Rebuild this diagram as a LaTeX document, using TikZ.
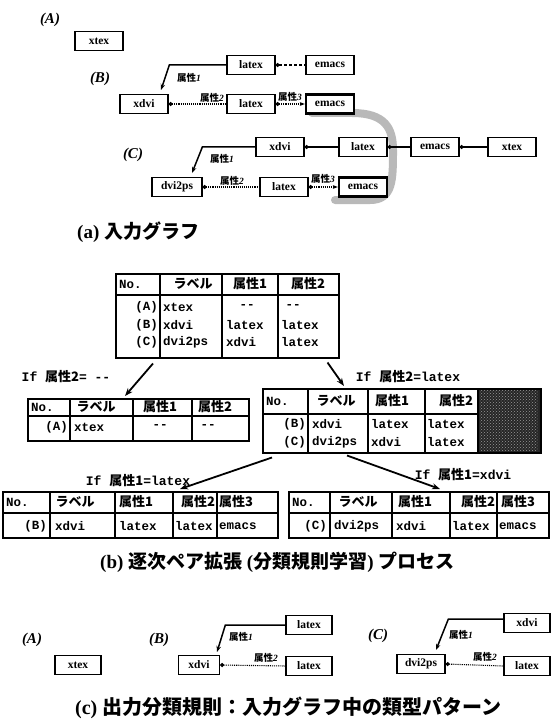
\documentclass[tikz,border=0pt]{standalone}
\usepackage{fontspec}
\setmainfont{Liberation Serif}
\setmonofont{Liberation Mono}
\newfontfamily\cjk{Noto Sans CJK JP}
\usetikzlibrary{arrows.meta,patterns}
\begin{document}
\begin{tikzpicture}[x=1pt,y=-1pt,
 gbox/.style={draw,line width=1.3pt,fill=white,minimum width=48pt,minimum height=19pt,inner sep=0pt,font=\fontsize{11.5}{12}\selectfont\bfseries},
 sbox/.style={gbox,minimum width=46pt,minimum height=19pt},
 hbox/.style={gbox,line width=2.4pt},
 glab/.style={font=\fontsize{15}{16}\selectfont\bfseries\itshape,inner sep=0pt},
 attr/.style={font=\fontsize{9.5}{10}\selectfont\bfseries,inner sep=0pt},
 gline/.style={line width=1.1pt},
 ldot/.style={{Circle[length=4pt]}-},
 a1/.style={line width=1.5pt,-{Stealth[length=6pt,width=4.5pt]}},
 tbl/.style={draw,line width=1.5pt,inner sep=0pt,anchor=north west},
 tl/.style={line width=1.3pt},
 hs/.style={line width=2.6pt},
 th/.style={font=\fontsize{13}{14}\selectfont\cjk\bfseries,inner sep=0pt},
 tt/.style={font=\fontsize{12.5}{13}\selectfont\ttfamily\bfseries,inner sep=0pt},
 cond/.style={font=\fontsize{13}{14}\selectfont\ttfamily\bfseries,inner sep=0pt},
 captxt/.style={font=\fontsize{19}{20}\selectfont\bfseries,inner sep=0pt,anchor=west},
 tarrow/.style={line width=1.8pt,-{Stealth[length=8pt,width=6pt]}}
]
\useasboundingbox (0,0) rectangle (550,722);
\fill[white] (0,0) rectangle (550,722);

% ---------- (a) input graph ----------
\draw[line width=8pt,gray!55,line cap=round,line join=round]
  (312,113) -- (352,113) .. controls (385,113) and (393,128) .. (393,150)
  .. controls (393,180) and (393,200) .. (370,200) -- (335,200);

\node[glab] (LA) at (50,20) {(A)};
\node[gbox] (xtexA) at (99,41) {xtex};
\node[glab] (LB) at (100,79) {(B)};
\node[gbox] (latexB1) at (251,65) {latex};
\node[gbox] (emacsB1) at (330,65) {emacs};
\node[gbox] (xdviB) at (144,104) {xdvi};
\node[gbox] (latexB2) at (251,104) {latex};
\node[hbox] (emacsB2) at (330,104) {emacs};
\node[glab] (LC) at (133,155) {(C)};
\node[gbox] (xdviC) at (280,147) {xdvi};
\node[gbox] (latexC1) at (363,147) {latex};
\node[gbox] (emacsC1) at (435,147) {emacs};
\node[gbox] (xtexC) at (512,147) {xtex};
\node[gbox,minimum width=50pt] (dvipsC) at (177,187) {dvi2ps};
\node[gbox] (latexC2) at (284,187) {latex};
\node[hbox] (emacsC2) at (363,187) {emacs};

\coordinate (tB1) at (161,90);
\coordinate (tC1) at (192,173);
\draw[gline,ldot,densely dashed] (latexB1.east) -- (emacsB1.west);
\draw[a1] (latexB1.west) -- ++(-57,0) -- (tB1);
\draw[gline,ldot,densely dotted] (xdviB.east) -- (latexB2.west);
\draw[gline,{Circle[length=4pt]}-{Stealth[length=5pt]},densely dotted] (latexB2.east) -- (emacsB2.west);
\draw[gline,ldot] (xdviC.east) -- (latexC1.west);
\draw[gline,ldot] (latexC1.east) -- (emacsC1.west);
\draw[gline,ldot] (emacsC1.east) -- (xtexC.west);
\draw[a1] (xdviC.west) -- ++(-53,0) -- (tC1);
\draw[gline,ldot,densely dotted] (dvipsC.east) -- (latexC2.west);
\draw[gline,{Circle[length=4pt]}-{Stealth[length=5pt]},densely dotted] (latexC2.east) -- (emacsC2.west);

\node[attr] (pB1) at (189,78) {{\cjk 属性}\textit{1}};
\node[attr] (pB2) at (212,98) {{\cjk 属性}\textit{2}};
\node[attr] (pB3) at (290,97) {{\cjk 属性}\textit{3}};
\node[attr] (pC1) at (222,159) {{\cjk 属性}\textit{1}};
\node[attr] (pC2) at (232,181) {{\cjk 属性}\textit{2}};
\node[attr] (pC3) at (323,179) {{\cjk 属性}\textit{3}};

\node[captxt] (capA) at (77,232) {(a) {\cjk 入力グラフ}};

% ---------- (b) tables ----------
% T0
\node[tbl,minimum width=223pt,minimum height=84pt] (T0) at (115,273) {};
\draw[tl] (160,273)--(160,357) (222,273)--(222,357) (278,273)--(278,357);
\draw[hs] (115,295)--(338,295);
\node[tt,anchor=west] (T0a) at (119,284) {No.};
\node[th] (T0b) at (193,284) {ラベル};
\node[th] (T0c) at (250,284) {属性1};
\node[th] (T0d) at (308,284) {属性2};
\node[tt,anchor=east] (T0e) at (158,307) {(A)};
\node[tt,anchor=west] (T0f) at (163,307) {xtex};
\node[tt] (T0g) at (247,307) {-{}-};
\node[tt] (T0h) at (293,307) {-{}-};
\node[tt,anchor=east] (T0i) at (158,325) {(B)};
\node[tt,anchor=west] (T0j) at (163,325) {xdvi};
\node[tt,anchor=west] (T0k) at (226,325) {latex};
\node[tt,anchor=west] (T0l) at (281,325) {latex};
\node[tt,anchor=east] (T0m) at (158,342) {(C)};
\node[tt,anchor=west] (T0n) at (163,342) {dvi2ps};
\node[tt,anchor=west] (T0o) at (226,342) {xdvi};
\node[tt,anchor=west] (T0p) at (281,342) {latex};

% T1
\node[tbl,minimum width=221pt,minimum height=42pt] (T1) at (27,398) {};
\draw[tl] (70,398)--(70,440) (133,398)--(133,440) (192,398)--(192,440);
\draw[hs] (27,416)--(248,416);
\node[tt,anchor=west] (T1a) at (31,407) {No.};
\node[th] (T1b) at (96,407) {ラベル};
\node[th] (T1c) at (160,407) {属性1};
\node[th] (T1d) at (215,407) {属性2};
\node[tt,anchor=east] (T1e) at (68,427) {(A)};
\node[tt,anchor=west] (T1f) at (74,427) {xtex};
\node[tt] (T1g) at (160,427) {-{}-};
\node[tt] (T1h) at (208,427) {-{}-};

% T2
\fill[black!85] (478,388) rectangle (540,452);
\fill[pattern=crosshatch dots,pattern color=gray!80] (480,390) rectangle (538,450);
\node[tbl,minimum width=278pt,minimum height=64pt] (T2) at (262,388) {};
\draw[tl] (308,388)--(308,452) (368,388)--(368,452) (425,388)--(425,452) (478,388)--(478,452);
\draw[hs] (262,414)--(478,414);
\node[tt,anchor=west] (T2a) at (266,401) {No.};
\node[th] (T2b) at (336,401) {ラベル};
\node[th] (T2c) at (392,401) {属性1};
\node[th] (T2d) at (456,401) {属性2};
\node[tt,anchor=east] (T2e) at (306,424) {(B)};
\node[tt,anchor=west] (T2f) at (312,424) {xdvi};
\node[tt,anchor=west] (T2g) at (371,424) {latex};
\node[tt,anchor=west] (T2h) at (427,424) {latex};
\node[tt,anchor=east] (T2i) at (306,442) {(C)};
\node[tt,anchor=west] (T2j) at (312,442) {dvi2ps};
\node[tt,anchor=west] (T2k) at (371,442) {xdvi};
\node[tt,anchor=west] (T2l) at (427,442) {latex};

% T3
\node[tbl,minimum width=275pt,minimum height=46pt] (T3) at (2,491) {};
\draw[tl] (50,491)--(50,537) (115,491)--(115,537) (173,491)--(173,537) (217,491)--(217,537);
\draw[hs] (2,513)--(277,513);
\node[tt,anchor=west] (T3a) at (6,502) {No.};
\node[th] (T3b) at (75,502) {ラベル};
\node[th] (T3c) at (136,502) {属性1};
\node[th] (T3d) at (198,502) {属性2};
\node[th] (T3e) at (236,502) {属性3};
\node[tt,anchor=east] (T3f) at (47,526) {(B)};
\node[tt,anchor=west] (T3g) at (55,526) {xdvi};
\node[tt,anchor=west] (T3h) at (119,526) {latex};
\node[tt,anchor=west] (T3i) at (175,526) {latex};
\node[tt,anchor=west] (T3j) at (219,526) {emacs};

% T4
\node[tbl,minimum width=260pt,minimum height=46pt] (T4) at (288,491) {};
\draw[tl] (330,491)--(330,537) (392,491)--(392,537) (450,491)--(450,537) (497,491)--(497,537);
\draw[hs] (288,513)--(548,513);
\node[tt,anchor=west] (T4a) at (292,502) {No.};
\node[th] (T4b) at (358,502) {ラベル};
\node[th] (T4c) at (415,502) {属性1};
\node[th] (T4d) at (478,502) {属性2};
\node[th] (T4e) at (518,502) {属性3};
\node[tt,anchor=east] (T4f) at (327,526) {(C)};
\node[tt,anchor=west] (T4g) at (334,526) {dvi2ps};
\node[tt,anchor=west] (T4h) at (396,526) {xdvi};
\node[tt,anchor=west] (T4i) at (452,526) {latex};
\node[tt,anchor=west] (T4j) at (499,526) {emacs};

% arrows between tables
\draw[tarrow] ([xshift=38pt,yshift=-5pt]T0.south west) -- ([xshift=98pt,yshift=2pt]T1.north west);
\draw[tarrow] ([xshift=-12pt,yshift=-4pt]T0.south east) -- ([xshift=82pt,yshift=2pt]T2.north west);
\draw[tarrow] ([xshift=10pt,yshift=-4pt]T2.south west) -- ([xshift=178pt,yshift=2pt]T3.north west);
\draw[tarrow] ([xshift=85pt,yshift=-2pt]T2.south west) -- ([xshift=152pt,yshift=2pt]T4.north west);

\node[cond] (c1) at (66,377) {If {\cjk 属性2}= -{}-};
\node[cond] (c2) at (408,377) {If {\cjk 属性2}=latex};
\node[cond] (c3) at (138,481) {If {\cjk 属性1}=latex};
\node[cond] (c4) at (463,475) {If {\cjk 属性1}=xdvi};

\node[captxt] (capB) at (100,562) {(b) {\cjk 逐次ペア拡張} ({\cjk 分類規則学習}) {\cjk プロセス}};

% ---------- (c) output rules ----------
\node[glab] (LA2) at (32,640) {(A)};
\node[sbox] (xtexR) at (78,665) {xtex};
\node[glab] (LB2) at (159,640) {(B)};
\node[sbox,minimum width=41pt] (xdviR) at (199,665) {xdvi};
\node[sbox] (latexR1) at (309,625) {latex};
\node[sbox] (latexR2) at (309,666) {latex};
\coordinate (tR) at (217,652);
\draw[a1] (latexR1.west) -- ++(-60,0) -- (tR);
\draw[gline,ldot,densely dotted] (xdviR.east) -- (latexR2.west);
\node[attr] (pR1) at (241,637) {{\cjk 属性}\textit{1}};
\node[attr] (pR2) at (266,658) {{\cjk 属性}\textit{2}};

\node[glab] (LC2) at (378,636) {(C)};
\node[sbox] (xdviS) at (527,623) {xdvi};
\node[sbox,minimum width=48pt] (dvipsS) at (421,664) {dvi2ps};
\node[sbox] (latexS) at (527,666) {latex};
\coordinate (tS) at (436,650);
\draw[a1] ([yshift=4pt]xdviS.west) -- ++(-55,0) -- (tS);
\draw[gline,ldot,densely dotted] (dvipsS.east) -- (latexS.west);
\node[attr] (pS1) at (461,635) {{\cjk 属性}\textit{1}};
\node[attr] (pS2) at (485,657) {{\cjk 属性}\textit{2}};

\node[captxt,font=\fontsize{20}{21}\selectfont\bfseries] (capC) at (75,708) {(c) {\cjk 出力分類規則：入力グラフ中の類型パターン}};
\end{tikzpicture}
\end{document}
